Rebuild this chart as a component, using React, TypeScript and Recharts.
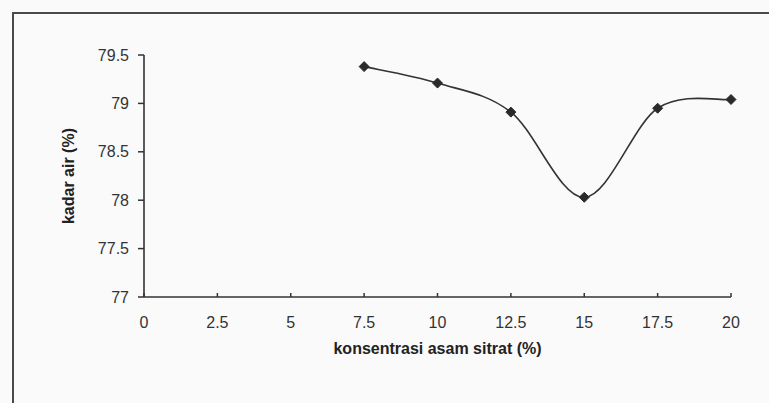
import React from "react";
import { LineChart, Line, XAxis, YAxis, Label } from "recharts";

const concentrations = [7.5, 10, 12.5, 15, 17.5, 20];
const waterContent = [79.38, 79.21, 78.91, 78.03, 78.95, 79.04];
const xTicks = [0, 2.5, 5, 7.5, 10, 12.5, 15, 17.5, 20];
const yTicks = [77, 77.5, 78, 78.5, 79, 79.5];

const data = concentrations.map((c, i) => ({ x: c, y: waterContent[i] }));

// Excel-like smoothing (uniform Catmull-Rom as cubic Bezier)
function smoothCurve(context: any) {
  let pts: [number, number][] = [];
  return {
    areaStart() {},
    areaEnd() {},
    lineStart() {
      pts = [];
    },
    lineEnd() {
      const n = pts.length;
      if (!n) return;
      context.moveTo(pts[0][0], pts[0][1]);
      for (let i = 0; i < n - 1; i++) {
        const p0 = pts[Math.max(i - 1, 0)];
        const p1 = pts[i];
        const p2 = pts[i + 1];
        const p3 = pts[Math.min(i + 2, n - 1)];
        context.bezierCurveTo(
          p1[0] + (p2[0] - p0[0]) / 6,
          p1[1] + (p2[1] - p0[1]) / 6,
          p2[0] - (p3[0] - p1[0]) / 6,
          p2[1] - (p3[1] - p1[1]) / 6,
          p2[0],
          p2[1]
        );
      }
    },
    point(x: number, y: number) {
      pts.push([x, y]);
    },
  };
}

const Diamond = (props: any) => {
  const { cx, cy, index } = props;
  if (cx == null || cy == null) return null;
  const s = 5;
  return (
    <path
      key={`d-${index}`}
      d={`M${cx},${cy - s}L${cx + s},${cy}L${cx},${cy + s}L${cx - s},${cy}Z`}
      fill="#2a2a2a"
      stroke="#2a2a2a"
      strokeWidth={1}
    />
  );
};

const FONT = "'Liberation Sans', Arial, sans-serif";

export default function App() {
  return (
    <div
      style={{
        position: "absolute",
        left: 0,
        top: 0,
        width: 769,
        height: 403,
        overflow: "hidden",
        background: "#fafafa",
      }}
    >
      <div
        style={{
          position: "absolute",
          left: 12,
          top: 12,
          width: 800,
          height: 500,
          border: "2px solid #4a4a4a",
          boxSizing: "border-box",
        }}
      />
      <div style={{ position: "absolute", left: 0, top: 0 }}>
        <LineChart
          width={769}
          height={403}
          data={data}
          margin={{ top: 55, right: 38, left: 0, bottom: 46 }}
        >
          <XAxis
            dataKey="x"
            type="number"
            domain={[0, 20]}
            ticks={xTicks}
            interval={0}
            height={60}
            axisLine={{ stroke: "#333", strokeWidth: 1.6 }}
            tickLine={{ stroke: "#333", strokeWidth: 1.5 }}
            tickSize={-4}
            tickMargin={24}
            tick={{ fill: "#333", fontSize: 16, fontFamily: FONT }}
          >
            <Label
              value="konsentrasi asam sitrat (%)"
              position="insideBottom"
              offset={3}
              style={{ fill: "#222", fontSize: 16, fontWeight: "bold", fontFamily: FONT }}
            />
          </XAxis>
          <YAxis
            type="number"
            domain={[77, 79.5]}
            ticks={yTicks}
            interval={0}
            width={144}
            axisLine={{ stroke: "#333", strokeWidth: 1.6 }}
            tickLine={{ stroke: "#333", strokeWidth: 1.5 }}
            tickSize={6}
            tickMargin={9}
            tick={{ fill: "#333", fontSize: 16, fontFamily: FONT }}
          >
            <Label
              value="kadar air (%)"
              angle={-90}
              position="insideLeft"
              offset={68}
              style={{ fill: "#222", fontSize: 16, fontWeight: "bold", fontFamily: FONT, textAnchor: "middle" }}
            />
          </YAxis>
          <Line
            dataKey="y"
            type={smoothCurve as any}
            stroke="#333"
            strokeWidth={1.6}
            dot={Diamond}
            activeDot={false}
            isAnimationActive={false}
          />
        </LineChart>
      </div>
    </div>
  );
}
